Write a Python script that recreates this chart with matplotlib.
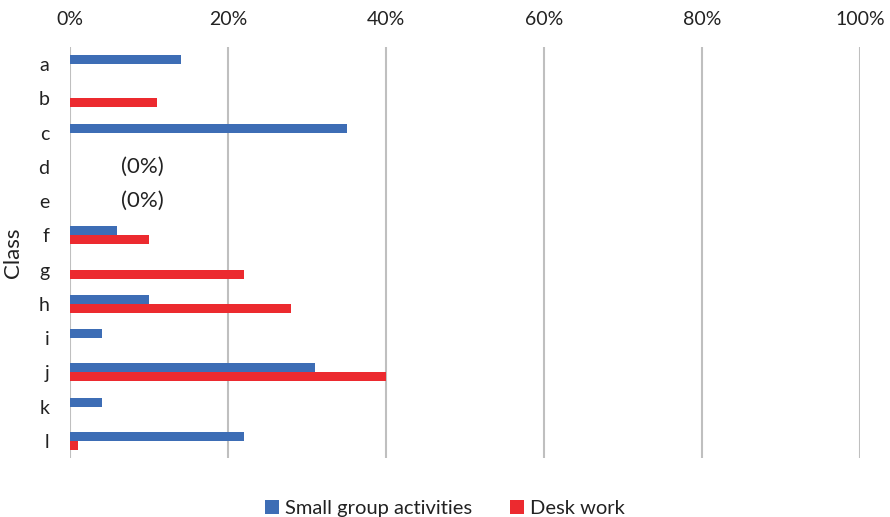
import matplotlib
matplotlib.use("Agg")
import matplotlib.pyplot as plt
import numpy as np

# share of time spent per class, in percent
classes = ["a", "b", "c", "d", "e", "f", "g", "h", "i", "j", "k", "l"]
small_group = [14, 0, 35, 0, 0, 6, 0, 10, 4, 31, 4, 22]
desk_work = [0, 11, 0, 0, 0, 10, 22, 28, 0, 40, 0, 1]
zero_classes = ["d", "e"]

blue = "#3D6DB5"
red = "#EC2A2F"
plt.rcParams["font.family"] = ["Lato", "DejaVu Sans"]

fig = plt.figure(figsize=(8.9, 5.17), dpi=100)
ax = fig.add_axes([70 / 890, 1 - 458 / 517, 790 / 890, 411 / 517])

y = np.arange(len(classes))
h = 0.26
ax.barh(y - h / 2, small_group, height=h, color=blue, label="Small group activities")
ax.barh(y + h / 2, desk_work, height=h, color=red, label="Desk work")

# classes with no activity at all get a "(0%)" note
for c in zero_classes:
    i = classes.index(c)
    ax.text(small_group[i] + 9.2, i, "(0%)", ha="center", va="center", fontsize=16, color="#222222")

ax.set_xlim(0, 100)
ax.set_ylim(len(classes) - 0.5, -0.5)
ax.set_xticks(range(0, 101, 20))
ax.set_xticklabels([f"{v}%" for v in range(0, 101, 20)])
ax.set_yticks(y)
ax.set_yticklabels(classes)
ax.xaxis.tick_top()
ax.tick_params(axis="both", length=0, labelsize=14, colors="#222222")
ax.tick_params(axis="x", pad=14)
ax.tick_params(axis="y", pad=15)
ax.grid(axis="x", color="#BFBFBF", linewidth=1.5)
ax.set_axisbelow(True)
for s in ax.spines.values():
    s.set_visible(False)
ax.set_ylabel("Class", fontsize=16, color="#222222", labelpad=11)

fig.legend(loc="lower center", ncol=2, frameon=False, fontsize=14.5,
           bbox_to_anchor=(0.5, -0.035), handlelength=0.7, handleheight=0.7,
           handletextpad=0.3, columnspacing=1.9, labelcolor="#222222")

fig.savefig("out.png", dpi=100)
